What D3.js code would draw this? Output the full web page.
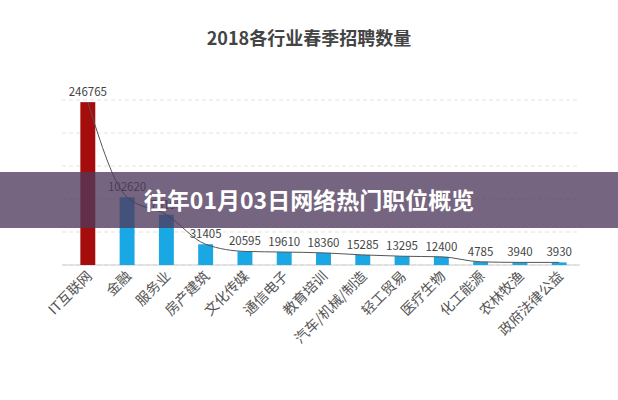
<!DOCTYPE html>
<html><head><meta charset="utf-8">
<script src="https://cdn.jsdelivr.net/npm/d3@7"></script>
<style>body{margin:0;background:#fff;font-family:"Noto Sans CJK SC","Noto Sans",sans-serif}</style>
</head><body><div id="viz"></div>
<script>
const categories = ["IT互联网","金融","服务业","房产建筑","文化传媒","通信电子","教育培训","汽车/机械/制造","轻工贸易","医疗生物","化工能源","农林牧渔","政府法律公益"];
const values = [246765,102620,76195,31405,20595,19610,18360,15285,13295,12400,4785,3940,3930];
const titleText = "2018各行业春季招聘数量";
const bannerText = "往年01月03日网络热门职位概览";

const W = 618, H = 400;
const svg = d3.select("#viz").append("svg").attr("width", W).attr("height", H);

const x = d3.scaleBand().domain(categories).range([56, 591]).padding(0.62);
const y = d3.scaleLinear().domain([0, 250000]).range([265, 100]);

svg.append("text").attr("x", 309).attr("y", 45).attr("text-anchor", "middle")
  .attr("font-size", 18).attr("font-weight", "bold").attr("fill", "#444").text(titleText);

// light dashed gridlines
[0, 50000, 100000, 150000, 200000, 250000].forEach(v => {
  svg.append("line").attr("x1", 62).attr("x2", 580).attr("y1", y(v)).attr("y2", y(v))
    .attr("stroke", "#e3e3e3").attr("stroke-dasharray", "4,3");
});
svg.append("line").attr("x1", 62).attr("x2", 580).attr("y1", y(0)).attr("y2", y(0)).attr("stroke", "#ccc");

svg.selectAll("rect.bar").data(values).join("rect").attr("class", "bar")
  .attr("x", (d, i) => x(categories[i])).attr("width", x.bandwidth())
  .attr("y", d => y(d)).attr("height", d => y(0) - y(d))
  .attr("fill", (d, i) => i === 0 ? "#a50d0d" : "#1aa8e4");

svg.append("path").datum(values)
  .attr("d", d3.line().x((d, i) => x(categories[i]) + x.bandwidth() / 2).y(d => y(d)).curve(d3.curveMonotoneX))
  .attr("fill", "none").attr("stroke", "#555").attr("stroke-width", 1);

svg.selectAll("text.val").data(values).join("text").attr("class", "val")
  .attr("x", (d, i) => x(categories[i]) + x.bandwidth() / 2).attr("y", d => y(d) - 6)
  .attr("text-anchor", "middle").attr("font-size", 11.5).attr("fill", "#444").text(d => d);

svg.selectAll("text.cat").data(categories).join("text").attr("class", "cat")
  .attr("transform", d => `translate(${x(d) + x.bandwidth() / 2 + 5},${y(0) + 12}) rotate(-45)`)
  .attr("text-anchor", "end").attr("font-size", 14).attr("fill", "#555").text(d => d);

// banner overlay
svg.append("rect").attr("x", 0).attr("y", 172).attr("width", W).attr("height", 56)
  .attr("fill", "#4e3a5c").attr("opacity", 0.78);
svg.append("text").attr("x", 309).attr("y", 209).attr("text-anchor", "middle")
  .attr("font-size", 23).attr("font-weight", "bold").attr("fill", "#fff").text(bannerText);
</script></body></html>
